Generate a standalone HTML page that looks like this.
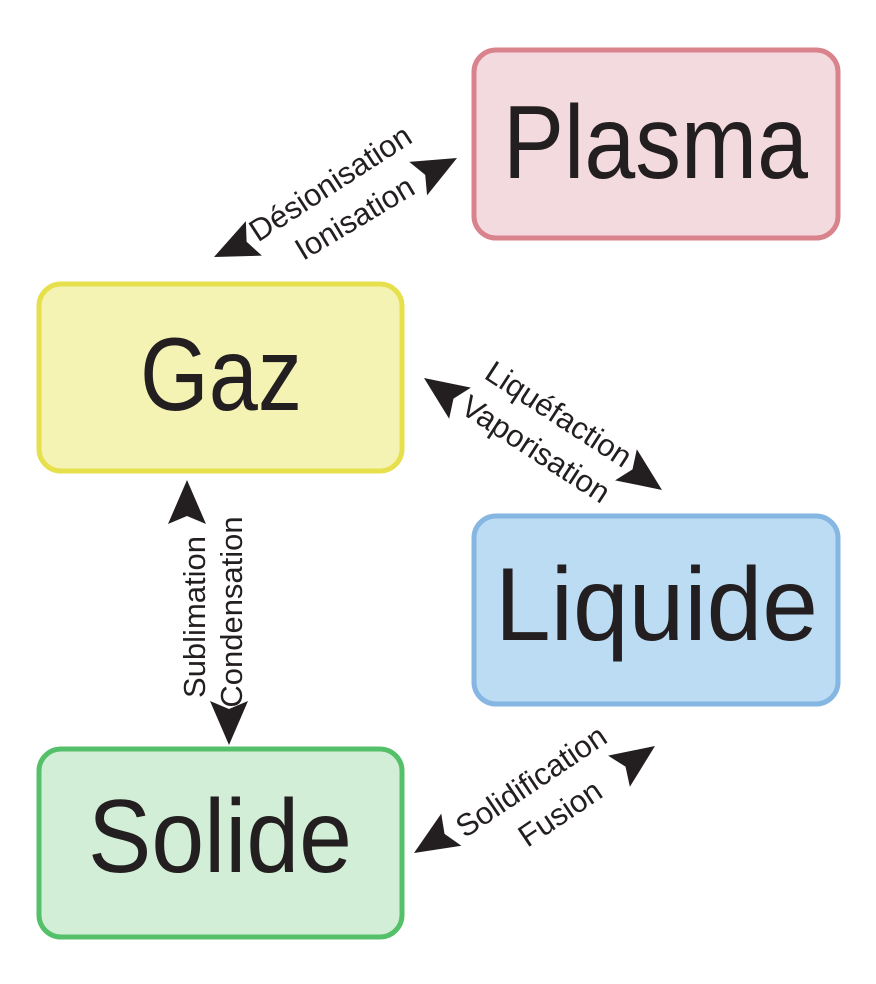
<!DOCTYPE html>
<html><head><meta charset="utf-8"><style>html,body{margin:0;padding:0;background:#fff}svg{display:block}</style></head>
<body>
<svg width="876" height="984" viewBox="0 0 876 984" xmlns="http://www.w3.org/2000/svg" font-family="Liberation Sans, sans-serif">
<defs>
<path id="ah" d="M0,0 L-44,-19 L-36,0 L-44,19 Z" fill="#231f20"/>
</defs>
<rect x="474" y="50" width="364" height="188" rx="22" fill="#f3dadf" stroke="#d9838d" stroke-width="5"/>
<rect x="39" y="284" width="363" height="187" rx="22" fill="#f4f3b3" stroke="#e6e04d" stroke-width="5"/>
<rect x="474" y="516" width="364" height="188" rx="22" fill="#bcdcf4" stroke="#86b6e2" stroke-width="5"/>
<rect x="39" y="749" width="363" height="188" rx="22" fill="#d3eed6" stroke="#55c06a" stroke-width="5"/>
<g fill="#231f20" font-size="104">
<text x="503" y="178" textLength="305" lengthAdjust="spacingAndGlyphs">Plasma</text>
<text x="140" y="410" textLength="162" lengthAdjust="spacingAndGlyphs">Gaz</text>
<text x="495" y="640" textLength="323" lengthAdjust="spacingAndGlyphs">Liquide</text>
<text x="88" y="872" textLength="264" lengthAdjust="spacingAndGlyphs">Solide</text>
</g>
<g fill="#231f20" font-size="31" text-anchor="middle">
<text transform="translate(336,192) rotate(-33)">Désionisation</text>
<text transform="translate(360,227) rotate(-31)">Ionisation</text>
<text transform="translate(553,423) rotate(33)">Liquéfaction</text>
<text transform="translate(530,458) rotate(33)">Vaporisation</text>
<text transform="translate(205,617) rotate(-90)">Sublimation</text>
<text transform="translate(242,612) rotate(-90)">Condensation</text>
<text transform="translate(537,790) rotate(-34)">Solidification</text>
<text transform="translate(566,822) rotate(-34)">Fusion</text>
</g>
<use href="#ah" transform="translate(457,158) rotate(-28)"/>
<use href="#ah" transform="translate(214,257) rotate(155)"/>
<use href="#ah" transform="translate(424,378) rotate(-145)"/>
<use href="#ah" transform="translate(662,490) rotate(35)"/>
<use href="#ah" transform="translate(187,480) rotate(-90)"/>
<use href="#ah" transform="translate(229,745) rotate(90)"/>
<use href="#ah" transform="translate(414,853) rotate(148)"/>
<use href="#ah" transform="translate(655,746) rotate(-35)"/>
</svg>
</body></html>
